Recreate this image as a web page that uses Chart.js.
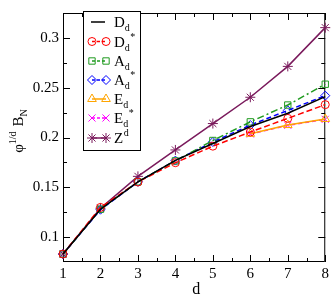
<!DOCTYPE html>
<html>
<head>
<meta charset="utf-8">
<script src="https://cdn.jsdelivr.net/npm/chart.js@4.4.0/dist/chart.umd.min.js"></script>
<style>
html,body{margin:0;padding:0;background:#fff;}
#wrap{width:332px;height:296px;position:relative;}
</style>
</head>
<body>
<div id="wrap"><canvas id="c" width="332" height="296"></canvas></div>
<script>
const dims = [1, 2, 3, 4, 5, 6, 7, 8];
const xTicks = [1, 2, 3, 4, 5, 6, 7, 8];
const yTicks = [0.1, 0.15, 0.2, 0.25, 0.3];
const D_d     = [0.083, 0.128, 0.1555, 0.177, 0.194, 0.211, 0.2243, 0.241];
const D_dStar = [0.083, 0.1298, 0.1553, 0.1747, 0.1913, 0.2055, 0.2192, 0.2330];
const A_d     = [0.083, 0.128, 0.1555, 0.1765, 0.197, 0.2157, 0.2326, 0.2535];
const A_dStar = [0.083, 0.1275, 0.1555, 0.1768, 0.1955, 0.2125, 0.2272, 0.2420];
const E_d     = [null, null, null, null, null, 0.2037, 0.2125, 0.2186];
const E_dStar = [null, null, null, null, null, 0.2035, 0.2122, 0.2182];
const Z_d     = [0.083, 0.129, 0.161, 0.1875, 0.214, 0.2404, 0.2714, 0.3103];

const SERIF = '"Liberation Serif", "DejaVu Serif", serif';
const pts = arr => dims.map((d, i) => ({x: d, y: arr[i]})).filter(p => p.y !== null);

const series = [
  {main:'D', sub:'d', sup:'', data:D_d, color:'#000000', dash:[], style:false, r:0},
  {main:'D', sub:'d', sup:'*', data:D_dStar, color:'#ff0000', dash:[6,3], style:'circle', r:4},
  {main:'A', sub:'d', sup:'', data:A_d, color:'#1f9a1f', dash:[7,3,2,3], style:'rect', r:4.5},
  {main:'A', sub:'d', sup:'*', data:A_dStar, color:'#0000ff', dash:[5,3], style:'rectRot', r:4.5},
  {main:'E', sub:'d', sup:'', data:E_d, color:'#ffa500', dash:[], style:'triangle', r:5},
  {main:'E', sub:'d', sup:'*', data:E_dStar, color:'#ff00ff', dash:[4,3], style:'crossRot', r:5},
  {main:'Z', sub:'', sup:'d', data:Z_d, color:'#7a1a5c', dash:[], style:'star', r:5}
];

const datasets = series.map(s => ({
  label: s.main + (s.sub ? '_' + s.sub : '') + (s.sup ? '^' + s.sup : ''),
  data: pts(s.data),
  borderColor: s.color,
  backgroundColor: 'rgba(0,0,0,0)',
  borderWidth: 1.5,
  borderDash: s.dash,
  pointStyle: s.style,
  pointRadius: s.r,
  pointBorderWidth: 1,
  pointBorderColor: s.color,
  pointBackgroundColor: 'rgba(0,0,0,0)',
  tension: 0,
  fill: false,
  clip: false
}));

const framePlugin = {
  id: 'frame',
  beforeDatasetsDraw(chart) {
    const ctx = chart.ctx;
    const a = chart.chartArea;
    const xs = chart.scales.x, ys = chart.scales.y;
    ctx.save();
    ctx.strokeStyle = '#000';
    ctx.lineWidth = 1;
    ctx.beginPath();
    ctx.rect(a.left + 0.5, a.top + 0.5, a.right - a.left - 1, a.bottom - a.top - 1);
    ctx.stroke();
    ctx.beginPath();
    for (let v = 1; v <= 8.001; v += 0.5) {
      const px = Math.round(xs.getPixelForValue(v)) + 0.5;
      const L = Math.abs(v - Math.round(v)) < 1e-6 ? 7 : 4;
      ctx.moveTo(px, a.bottom); ctx.lineTo(px, a.bottom - L);
      ctx.moveTo(px, a.top); ctx.lineTo(px, a.top + L);
    }
    for (let v = 0.1; v <= 0.3251; v += 0.025) {
      const py = Math.round(ys.getPixelForValue(v)) + 0.5;
      const k = Math.round(v / 0.025);
      const L = (k % 2 === 0) ? 7 : 4;
      ctx.moveTo(a.left, py); ctx.lineTo(a.left + L, py);
      ctx.moveTo(a.right, py); ctx.lineTo(a.right - L, py);
    }
    ctx.stroke();

    ctx.fillStyle = '#000';
    ctx.font = '16px ' + SERIF;
    ctx.textAlign = 'center';
    ctx.textBaseline = 'alphabetic';
    ctx.fillText('d', (a.left + a.right) / 2 + 2, 294);

    ctx.save();
    ctx.translate(23, 131);
    ctx.rotate(-Math.PI / 2);
    ctx.textAlign = 'left';
    const parts = [
      {t:'\u03C6', f:15, dy:0},
      {t:'1/d', f:10, dy:-7},
      {t:'  ', f:10, dy:0},
      {t:'B', f:15, dy:0},
      {t:'N', f:10, dy:4}
    ];
    let w = 0;
    parts.forEach(p => { ctx.font = p.f + 'px ' + SERIF; w += ctx.measureText(p.t).width; });
    let x0 = -w / 2;
    parts.forEach(p => {
      ctx.font = p.f + 'px ' + SERIF;
      ctx.fillText(p.t, x0, p.dy);
      x0 += ctx.measureText(p.t).width;
    });
    ctx.restore();
    ctx.restore();
  },
  afterDraw(chart) {
    const ctx = chart.ctx;
    ctx.save();
    const lx0 = 83, ly0 = 11, lx1 = 141, ly1 = 151;
    ctx.fillStyle = '#fff';
    ctx.fillRect(lx0, ly0, lx1 - lx0, ly1 - ly0);
    ctx.strokeStyle = '#000';
    ctx.lineWidth = 1;
    ctx.strokeRect(lx0 + 0.5, ly0 + 0.5, lx1 - lx0 - 1, ly1 - ly0 - 1);
    const rowY = [22, 41.5, 61, 80, 99, 118, 138];
    series.forEach((s, i) => {
      const y = rowY[i];
      const m1 = 92, m2 = 106;
      ctx.save();
      ctx.strokeStyle = s.color;
      ctx.fillStyle = 'rgba(0,0,0,0)';
      ctx.lineWidth = 1.5;
      ctx.setLineDash(s.dash.length ? [3, 2] : []);
      ctx.beginPath();
      ctx.moveTo(s.style ? m1 : 91, y);
      ctx.lineTo(s.style ? m2 : 105, y);
      ctx.stroke();
      ctx.setLineDash([]);
      if (s.style) {
        ctx.lineWidth = 1;
        Chart.helpers.drawPoint(ctx, {pointStyle: s.style, radius: s.r, borderWidth: 1, rotation: 0}, m1, y);
        Chart.helpers.drawPoint(ctx, {pointStyle: s.style, radius: s.r, borderWidth: 1, rotation: 0}, m2, y);
      }
      ctx.restore();
      ctx.fillStyle = '#000';
      ctx.textAlign = 'left';
      ctx.textBaseline = 'alphabetic';
      ctx.font = '15px ' + SERIF;
      const tx = 114;
      const by = y + 5;
      ctx.fillText(s.main, tx, by);
      const mw = ctx.measureText(s.main).width;
      ctx.font = '10px ' + SERIF;
      if (s.sub) ctx.fillText(s.sub, tx + mw, by + 4);
      if (s.sup) {
        const sx = s.sub ? tx + mw + ctx.measureText(s.sub).width : tx + mw;
        ctx.fillText(s.sup, sx + 0.5, by - 7);
      }
    });
    ctx.restore();
  }
};

new Chart(document.getElementById('c'), {
  type: 'line',
  data: { datasets },
  plugins: [framePlugin],
  options: {
    responsive: false,
    animation: false,
    devicePixelRatio: 1,
    layout: { padding: { left: 0, right: 6, top: 2, bottom: 0 } },
    plugins: { legend: { display: false }, tooltip: { enabled: false } },
    scales: {
      x: {
        type: 'linear', min: 1, max: 8,
        afterBuildTicks: sc => { sc.ticks = xTicks.map(v => ({value: v})); },
        afterFit: sc => { sc.height = 34; },
        grid: { display: false, drawTicks: false },
        border: { display: false },
        ticks: { font: { family: SERIF, size: 15 }, color: '#000', padding: 3, maxRotation: 0,
                 callback: v => String(v) }
      },
      y: {
        type: 'linear', min: 0.075, max: 0.325,
        afterBuildTicks: sc => { sc.ticks = yTicks.map(v => ({value: v})); },
        afterFit: sc => { sc.width = 63; },
        grid: { display: false, drawTicks: false },
        border: { display: false },
        ticks: { font: { family: SERIF, size: 15 }, color: '#000', padding: 4,
                 callback: v => String(Math.round(v * 1000) / 1000) }
      }
    }
  }
});
</script>
</body>
</html>
